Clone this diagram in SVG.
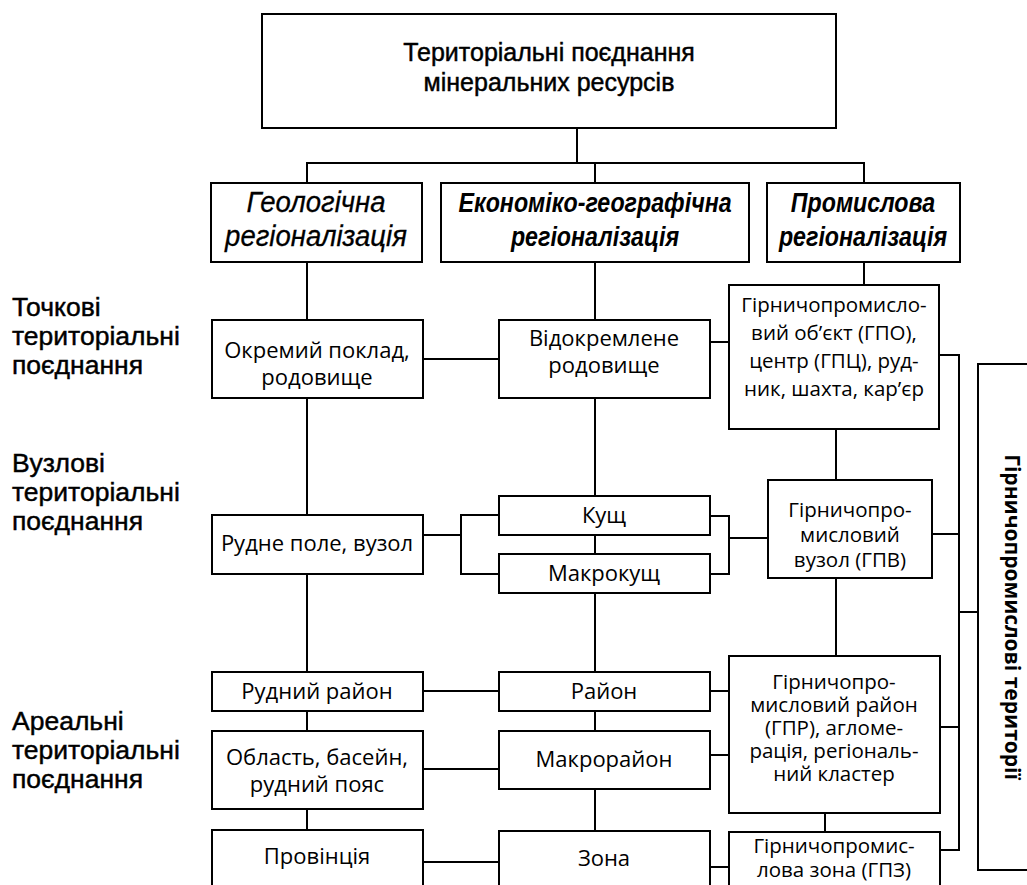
<svg xmlns="http://www.w3.org/2000/svg" width="1027" height="885" viewBox="0 0 1027 885">
  <style>
    .box { fill: #fff; stroke: #000; stroke-width: 2; }
    .wire { fill: none; stroke: #000; stroke-width: 2; stroke-linecap: square; }
    .sans { font-family: "Liberation Sans", Arial, sans-serif; fill: #000; stroke: #000; stroke-width: 0.45; }
    .title { font-size: 25px; text-anchor: middle; }
    .side { font-size: 26.5px; }
    .hgeo { font-size: 29px; font-style: italic; text-anchor: middle; stroke-width: 0.3; }
    .hbold { font-size: 28px; font-style: italic; font-weight: bold; text-anchor: middle; stroke-width: 0; }
    .cell { font-family: "Open Sans", "Noto Sans", sans-serif; font-size: 22px; text-anchor: middle; fill: #000; }
    .cell-s { font-family: "Open Sans", "Noto Sans", sans-serif; font-size: 20.5px; text-anchor: middle; fill: #000; }
    .vert { font-family: "Open Sans", "Noto Sans", sans-serif; font-size: 21px; font-weight: bold; text-anchor: middle; fill: #000; }
  </style>

  <!-- connectors -->
  <g id="connectors" class="wire">
    <path d="M577,128 V163 M307,163 H864 M307,163 V183 M595,163 V183 M864,163 V183"/>
    <path d="M307,262 V320 M307,398 V515 M307,574 V672 M307,711 V731 M307,809 V830"/>
    <path d="M595,262 V320 M595,398 V496 M595,535 V554 M595,593 V672 M595,711 V731 M595,789 V831"/>
    <path d="M864,262 V285 M836,429 V480 M836,578 V656 M825,813 V832"/>
    <path d="M423,359 H499 M710,342 H729"/>
    <path d="M423,535 H461 M461,515 V574 M461,515 H499 M461,574 H499"/>
    <path d="M710,516 H729 V574 H710 M729,538 H768"/>
    <path d="M423,691 H499 M710,691 H729 M423,769 H499 M710,755 H729 M423,862 H499 M710,867 H729"/>
    <path d="M939,355 H959 V850 H940 M932,534 H959 M940,727 H959 M959,612 H978"/>
  </g>

  <g id="title">
    <rect class="box" x="262" y="14" width="574" height="114"/>
    <text class="sans title" x="549" y="61">Територіальні поєднання</text>
    <text class="sans title" x="549" y="91">мінеральних ресурсів</text>
  </g>

  <!-- row labels -->
  <g id="label-point">
    <text class="sans side" x="12" y="316">Точкові</text>
    <text class="sans side" x="12" y="345">територіальні</text>
    <text class="sans side" x="12" y="374">поєднання</text>
  </g>
  <g id="label-nodal">
    <text class="sans side" x="12" y="472">Вузлові</text>
    <text class="sans side" x="12" y="501">територіальні</text>
    <text class="sans side" x="12" y="530">поєднання</text>
  </g>
  <g id="label-areal">
    <text class="sans side" x="12" y="730">Ареальні</text>
    <text class="sans side" x="12" y="759">територіальні</text>
    <text class="sans side" x="12" y="788">поєднання</text>
  </g>

  <!-- column headers -->
  <g id="hdr-geo">
    <rect class="box" x="211" y="183" width="211" height="79"/>
    <text class="sans hgeo" transform="translate(316,212) scale(0.95,1)">Геологічна</text>
    <text class="sans hgeo" transform="translate(316,246) scale(0.95,1)">регіоналізація</text>
  </g>
  <g id="hdr-econ">
    <rect class="box" x="441" y="183" width="308" height="79"/>
    <text class="sans hbold" transform="translate(595,212) scale(0.83,1)">Економіко-географічна</text>
    <text class="sans hbold" transform="translate(595,246) scale(0.83,1)">регіоналізація</text>
  </g>
  <g id="hdr-prom">
    <rect class="box" x="767" y="183" width="193" height="79"/>
    <text class="sans hbold" transform="translate(863,212) scale(0.83,1)">Промислова</text>
    <text class="sans hbold" transform="translate(863,246) scale(0.83,1)">регіоналізація</text>
  </g>

  <!-- geological column -->
  <g id="n-okremyi">
    <rect class="box" x="212" y="320" width="211" height="78"/>
    <text class="cell" x="317" y="358">Окремий поклад,</text>
    <text class="cell" x="317" y="385">родовище</text>
  </g>
  <g id="n-rudne-pole">
    <rect class="box" x="212" y="515" width="211" height="59"/>
    <text class="cell" x="317" y="551">Рудне поле, вузол</text>
  </g>
  <g id="n-rudnyi-raion">
    <rect class="box" x="212" y="672" width="211" height="39"/>
    <text class="cell" x="317" y="699">Рудний район</text>
  </g>
  <g id="n-oblast">
    <rect class="box" x="212" y="731" width="211" height="78"/>
    <text class="cell" x="317" y="765">Область, басейн,</text>
    <text class="cell" x="317" y="792">рудний пояс</text>
  </g>
  <g id="n-provintsiia">
    <rect class="box" x="212" y="830" width="211" height="70"/>
    <text class="cell" x="317" y="864">Провінція</text>
  </g>

  <!-- economic-geographic column -->
  <g id="n-vidokremlene">
    <rect class="box" x="499" y="320" width="211" height="78"/>
    <text class="cell" x="604" y="346">Відокремлене</text>
    <text class="cell" x="604" y="373">родовище</text>
  </g>
  <g id="n-kushch">
    <rect class="box" x="499" y="496" width="211" height="39"/>
    <text class="cell" x="604" y="523">Кущ</text>
  </g>
  <g id="n-makrokushch">
    <rect class="box" x="499" y="554" width="211" height="39"/>
    <text class="cell" x="604" y="581">Макрокущ</text>
  </g>
  <g id="n-raion">
    <rect class="box" x="499" y="672" width="211" height="39"/>
    <text class="cell" x="604" y="699">Район</text>
  </g>
  <g id="n-makroraion">
    <rect class="box" x="499" y="731" width="211" height="58"/>
    <text class="cell" x="604" y="767">Макрорайон</text>
  </g>
  <g id="n-zona">
    <rect class="box" x="499" y="831" width="211" height="70"/>
    <text class="cell" x="604" y="866">Зона</text>
  </g>

  <!-- industrial column -->
  <g id="n-gpo">
    <rect class="box" x="729" y="285" width="210" height="144"/>
    <text class="cell-s" x="834" y="312">Гірничопромисло-</text>
    <text class="cell-s" x="834" y="340">вий об’єкт (ГПО),</text>
    <text class="cell-s" x="834" y="368">центр (ГПЦ), руд-</text>
    <text class="cell-s" x="834" y="396">ник, шахта, кар’єр</text>
  </g>
  <g id="n-gpv">
    <rect class="box" x="768" y="480" width="164" height="98"/>
    <text class="cell-s" x="850" y="517">Гірничопро-</text>
    <text class="cell-s" x="850" y="542">мисловий</text>
    <text class="cell-s" x="850" y="567">вузол (ГПВ)</text>
  </g>
  <g id="n-gpr">
    <rect class="box" x="729" y="656" width="211" height="157"/>
    <text class="cell-s" x="834" y="689">Гірничопро-</text>
    <text class="cell-s" x="834" y="712">мисловий район</text>
    <text class="cell-s" x="834" y="735">(ГПР), агломе-</text>
    <text class="cell-s" x="834" y="758">рація, регіональ-</text>
    <text class="cell-s" x="834" y="781">ний кластер</text>
  </g>
  <g id="n-gpz">
    <rect class="box" x="729" y="832" width="211" height="70"/>
    <text class="cell-s" x="834" y="853">Гірничопромис-</text>
    <text class="cell-s" x="834" y="877">лова зона (ГПЗ)</text>
  </g>

  <!-- mining-industrial territories -->
  <g id="n-territories">
    <rect class="box" x="978" y="364" width="60" height="506"/>
    <text class="vert" transform="translate(1005,617) rotate(90)">Гірничопромислові території</text>
  </g>
</svg>
